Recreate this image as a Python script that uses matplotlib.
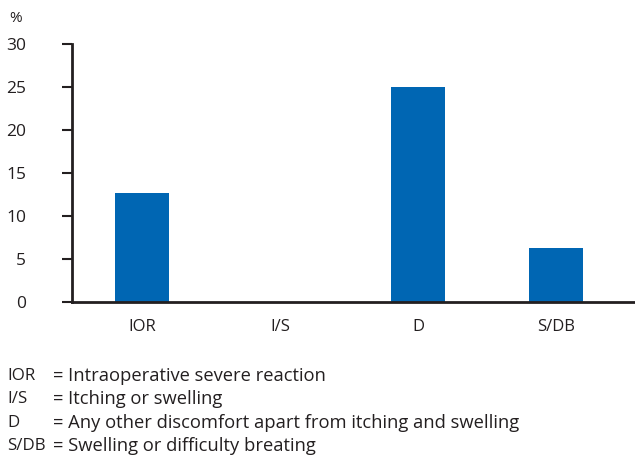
import matplotlib
matplotlib.use("Agg")
import matplotlib.pyplot as plt

categories = ["IOR", "I/S", "D", "S/DB"]
values = [12.7, 0.0, 25.0, 6.3]
y_ticks = [0, 5, 10, 15, 20, 25, 30]
legend_keys = ["IOR", "I/S", "D", "S/DB"]
legend_texts = [
    "= Intraoperative severe reaction",
    "= Itching or swelling",
    "= Any other discomfort apart from itching and swelling",
    "= Swelling or difficulty breating",
]

plt.rcParams["font.family"] = ["Open Sans", "DejaVu Sans"]
W, H = 635, 461
fig = plt.figure(figsize=(W / 100, H / 100), dpi=100)
ax = fig.add_axes([72 / W, 1 - 302 / H, 1 - 72 / W, (302 - 44) / H])

ink = "#231f20"
ax.bar(range(len(categories)), values, width=0.39, color="#0066b3", zorder=2)
ax.set_xlim(-0.51, 3.57)
ax.set_ylim(0, 30)
ax.set_yticks(y_ticks)
ax.set_xticks(range(len(categories)))
ax.set_xticklabels(categories)

for s in ["top", "right"]:
    ax.spines[s].set_visible(False)
for s in ["left", "bottom"]:
    ax.spines[s].set_linewidth(2)
    ax.spines[s].set_color(ink)

ax.tick_params(axis="y", length=7, width=1.5, color=ink, pad=26,
               labelsize=12.5, labelcolor=ink)
ax.tick_params(axis="x", length=0, pad=12, labelsize=12, labelcolor=ink)

fig.text(16 / W, 1 - 19 / H, "%", ha="center", va="center", fontsize=11, color=ink)

ys = [376, 399, 423, 446]
for key, txt, y in zip(legend_keys, legend_texts, ys):
    fig.text(7 / W, 1 - y / H, key, ha="left", va="center", fontsize=12.2, color=ink)
    fig.text(53 / W, 1 - y / H, txt, ha="left", va="center", fontsize=13.2, color=ink)

fig.savefig("out.png", dpi=100)
